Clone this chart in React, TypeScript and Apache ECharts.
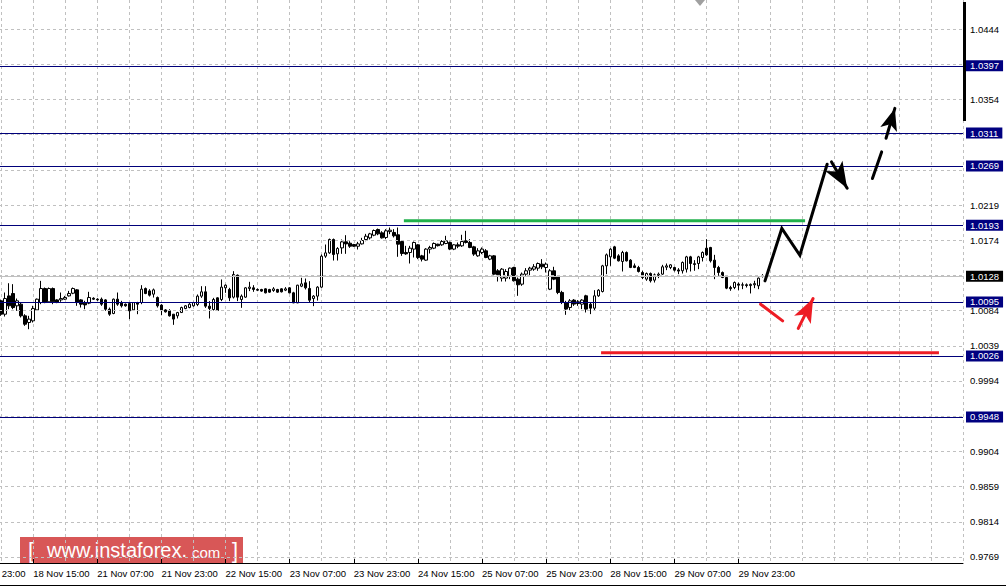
import React, { useEffect, useRef } from "react";
import * as echarts from "echarts";

// ---------- DATA ----------
const START_UTC = Date.UTC(2016, 10, 17, 23); // first category: 17 Nov 23:00 (H1, weekends skipped)
const CATEGORY_COUNT = 249;
const LEADING_EMPTY = 8; // bars before the first visible candle
const MONTH_NAMES = ["Jan", "Feb", "Mar", "Apr", "May", "Jun", "Jul", "Aug", "Sep", "Oct", "Nov", "Dec"];

// [open, close, low, high]
const ohlc: number[][] = [
  [1.00965, 1.00794, 1.00773, 1.0098], [1.00794, 1.00994, 1.00764, 1.01071], [1.01028, 1.00901, 1.00858, 1.0119],
  [1.01058, 1.00879, 1.00858, 1.01178], [1.00901, 1.00965, 1.00837, 1.00994], [1.00922, 1.00773, 1.00752, 1.00943],
  [1.00773, 1.00666, 1.00645, 1.00794], [1.00688, 1.00731, 1.00602, 1.00773], [1.00709, 1.00866, 1.00688, 1.00901],
  [1.00849, 1.00986, 1.00837, 1.00994], [1.00943, 1.01122, 1.00922, 1.0122], [1.01122, 1.00943, 1.00935, 1.01135],
  [1.00952, 1.01122, 1.00943, 1.01135], [1.01122, 1.00952, 1.00922, 1.01135], [1.00977, 1.00943, 1.00935, 1.00986],
  [1.00977, 1.00994, 1.00952, 1.01071], [1.00986, 1.01007, 1.00977, 1.01028], [1.01028, 1.01058, 1.0102, 1.01092],
  [1.01062, 1.01122, 1.0105, 1.01135], [1.01105, 1.00943, 1.00901, 1.01114], [1.00977, 1.00922, 1.00879, 1.00986],
  [1.00935, 1.00913, 1.00858, 1.00965], [1.00935, 1.01007, 1.00922, 1.0108], [1.00998, 1.00986, 1.00977, 1.0101],
  [1.00986, 1.00977, 1.00965, 1.00998], [1.00986, 1.00922, 1.00901, 1.01007], [1.00977, 1.00858, 1.00837, 1.00986],
  [1.00858, 1.00794, 1.00773, 1.00879], [1.00803, 1.00986, 1.00794, 1.00994], [1.00986, 1.00922, 1.00901, 1.01071],
  [1.00943, 1.00901, 1.00879, 1.00965], [1.00922, 1.00901, 1.0089, 1.0093], [1.0093, 1.00837, 1.00731, 1.00943],
  [1.00849, 1.00943, 1.0084, 1.0095], [1.00943, 1.00922, 1.00794, 1.00952], [1.00943, 1.01114, 1.00922, 1.01165],
  [1.01122, 1.01058, 1.0105, 1.01135], [1.01092, 1.01037, 1.0102, 1.01114], [1.0105, 1.01105, 1.01007, 1.01122],
  [1.01007, 1.00901, 1.00879, 1.0102], [1.0091, 1.00849, 1.00781, 1.00922], [1.00849, 1.00824, 1.00815, 1.00858],
  [1.00837, 1.00773, 1.00764, 1.00858], [1.00794, 1.00731, 1.00658, 1.00794], [1.00773, 1.00815, 1.00739, 1.00824],
  [1.00815, 1.00879, 1.0081, 1.0089], [1.00866, 1.00901, 1.00858, 1.0091], [1.00879, 1.00922, 1.0087, 1.00935],
  [1.00901, 1.00943, 1.0089, 1.00952], [1.00918, 1.01025, 1.00897, 1.01046], [1.01025, 1.0108, 1.01003, 1.01152],
  [1.0108, 1.00897, 1.00875, 1.01152], [1.00897, 1.00867, 1.00739, 1.00961], [1.00854, 1.00982, 1.00841, 1.01003],
  [1.01003, 1.00841, 1.00835, 1.0101], [1.00982, 1.0114, 1.00961, 1.01238], [1.01131, 1.01165, 1.01067, 1.01174],
  [1.0111, 1.01003, 1.00961, 1.01131], [1.01012, 1.01301, 1.00995, 1.01344], [1.01293, 1.01012, 1.00961, 1.01301],
  [1.00982, 1.01025, 1.00875, 1.01046], [1.01012, 1.01131, 1.01003, 1.0114], [1.01123, 1.0114, 1.01089, 1.01208],
  [1.01131, 1.0111, 1.0108, 1.01165], [1.0111, 1.01101, 1.01089, 1.01123], [1.0111, 1.01089, 1.0108, 1.01118],
  [1.01118, 1.01067, 1.0106, 1.01125], [1.0111, 1.01076, 1.01067, 1.01118], [1.01097, 1.01118, 1.0108, 1.0114],
  [1.0111, 1.01076, 1.01067, 1.01118], [1.01118, 1.0108, 1.01072, 1.01125], [1.01101, 1.01118, 1.01089, 1.0114],
  [1.01131, 1.01067, 1.0106, 1.0114], [1.01067, 1.00939, 1.00935, 1.0108], [1.00939, 1.01165, 1.00935, 1.0117],
  [1.01152, 1.01182, 1.0114, 1.01259], [1.01195, 1.01131, 1.0111, 1.0125], [1.01123, 1.00973, 1.00939, 1.01216],
  [1.00995, 1.01025, 1.00897, 1.01038], [1.01025, 1.0114, 1.00968, 1.01152], [1.0114, 1.01536, 1.01131, 1.01557],
  [1.01536, 1.01578, 1.01514, 1.01685], [1.01578, 1.01749, 1.01566, 1.01761], [1.01749, 1.01557, 1.0148, 1.01761],
  [1.01566, 1.01634, 1.0148, 1.01651], [1.01642, 1.01719, 1.01566, 1.01749], [1.01719, 1.01693, 1.01566, 1.01804],
  [1.01702, 1.01663, 1.01642, 1.01727], [1.01685, 1.01663, 1.01655, 1.01693], [1.01663, 1.01693, 1.01621, 1.01719],
  [1.01693, 1.01736, 1.01685, 1.0177], [1.01749, 1.01791, 1.01727, 1.01821], [1.0177, 1.01821, 1.01749, 1.01834],
  [1.01804, 1.01864, 1.01791, 1.01877], [1.01877, 1.01821, 1.01804, 1.01889], [1.01834, 1.0177, 1.01761, 1.01855],
  [1.01775, 1.0186, 1.01753, 1.01881], [1.0185, 1.01868, 1.01817, 1.01902], [1.01839, 1.01796, 1.01775, 1.01881],
  [1.01809, 1.01689, 1.01528, 1.01902], [1.01723, 1.0157, 1.0154, 1.01732], [1.01583, 1.01565, 1.01553, 1.01668],
  [1.01583, 1.01638, 1.01442, 1.01668], [1.01626, 1.01711, 1.01519, 1.01723], [1.01681, 1.01519, 1.01498, 1.01689],
  [1.0154, 1.01498, 1.01468, 1.01553], [1.01485, 1.01626, 1.01476, 1.01638], [1.01626, 1.01647, 1.0157, 1.01668],
  [1.01638, 1.01698, 1.01626, 1.01711], [1.01689, 1.0167, 1.0166, 1.01695], [1.01681, 1.01723, 1.01668, 1.01741],
  [1.01698, 1.01732, 1.01689, 1.01796], [1.01711, 1.01626, 1.01613, 1.01723], [1.01626, 1.01681, 1.01613, 1.01689],
  [1.01681, 1.01664, 1.01638, 1.01711], [1.01668, 1.01723, 1.01655, 1.01809], [1.01732, 1.01711, 1.01698, 1.0186],
  [1.01711, 1.01647, 1.01638, 1.01753], [1.01655, 1.01562, 1.0154, 1.01668], [1.0154, 1.01604, 1.01528, 1.01638],
  [1.01583, 1.01626, 1.01562, 1.01647], [1.01604, 1.01519, 1.0151, 1.01626], [1.01498, 1.0154, 1.01485, 1.01553],
  [1.0154, 1.01306, 1.01298, 1.01549], [1.01349, 1.01298, 1.01212, 1.0137], [1.01255, 1.0137, 1.01212, 1.01383],
  [1.01255, 1.0134, 1.01212, 1.0137], [1.01285, 1.01383, 1.01242, 1.01391], [1.01391, 1.01221, 1.01212, 1.014],
  [1.01242, 1.0117, 1.01029, 1.01263], [1.01178, 1.01306, 1.01157, 1.01327], [1.01306, 1.01349, 1.01285, 1.01383],
  [1.01357, 1.01383, 1.01285, 1.014], [1.0137, 1.014, 1.01349, 1.01434], [1.01383, 1.01442, 1.01349, 1.01455],
  [1.01434, 1.014, 1.0137, 1.01498], [1.01391, 1.01434, 1.01327, 1.01455], [1.01114, 1.01349, 1.01102, 1.0137],
  [1.01349, 1.01242, 1.01229, 1.014], [1.01272, 1.01072, 1.0105, 1.01285], [1.01072, 1.00944, 1.00923, 1.01093],
  [1.00944, 1.00859, 1.00786, 1.00965], [1.0088, 1.00965, 1.00838, 1.00987], [1.00974, 1.00923, 1.009, 1.00987],
  [1.00952, 1.0093, 1.00901, 1.00974], [1.00922, 1.00974, 1.00859, 1.00986], [1.01029, 1.00859, 1.00816, 1.01042],
  [1.00922, 1.00871, 1.00795, 1.00944], [1.00871, 1.01029, 1.00837, 1.01101], [1.01029, 1.01101, 1.01016, 1.01114],
  [1.01084, 1.01412, 1.01072, 1.01425], [1.01412, 1.01553, 1.01306, 1.0157], [1.01527, 1.01625, 1.01412, 1.01638],
  [1.01655, 1.0151, 1.01498, 1.01668], [1.0154, 1.01476, 1.01468, 1.01561], [1.01468, 1.01583, 1.0134, 1.01604],
  [1.01583, 1.01476, 1.01468, 1.01596], [1.01485, 1.01391, 1.01383, 1.01498], [1.01412, 1.01391, 1.01383, 1.01442],
  [1.01391, 1.0134, 1.01327, 1.01412], [1.01327, 1.01263, 1.01242, 1.01349], [1.01242, 1.01314, 1.01221, 1.01327],
  [1.01314, 1.01221, 1.01199, 1.01327], [1.01229, 1.01297, 1.01199, 1.01314], [1.0129, 1.01306, 1.01255, 1.01327],
  [1.01306, 1.014, 1.01297, 1.01425], [1.01395, 1.01412, 1.01357, 1.01442], [1.01391, 1.01425, 1.0137, 1.01434],
  [1.01391, 1.01357, 1.0134, 1.014], [1.0136, 1.01345, 1.01306, 1.01383], [1.01349, 1.01455, 1.01314, 1.01468],
  [1.0137, 1.01527, 1.01327, 1.0154], [1.01527, 1.01442, 1.0134, 1.0154], [1.0144, 1.0143, 1.01349, 1.01485],
  [1.01442, 1.01527, 1.0137, 1.0154], [1.01519, 1.01583, 1.01468, 1.01596], [1.01638, 1.01553, 1.0154, 1.01753],
  [1.01647, 1.01476, 1.01455, 1.01655], [1.01485, 1.01391, 1.01242, 1.01553], [1.01391, 1.01327, 1.01285, 1.01412],
  [1.01327, 1.01263, 1.01255, 1.0134], [1.01263, 1.01127, 1.01114, 1.01272], [1.01135, 1.0112, 1.01093, 1.01157],
  [1.01135, 1.01199, 1.01114, 1.01212], [1.0118, 1.01165, 1.01101, 1.01199], [1.01165, 1.0117, 1.01114, 1.01199],
  [1.0117, 1.0116, 1.01135, 1.01187], [1.0116, 1.01175, 1.01059, 1.01187], [1.0117, 1.01185, 1.01127, 1.01221],
  [1.01157, 1.01255, 1.01114, 1.01263], [1.01285, 1.0128, 1.01263, 1.01306],
];

// price-scale grid ticks (labels on the right axis)
const priceTicks = ["0.9769", "0.9814", "0.9859", "0.9904", "0.9949", "0.9994", "1.0039", "1.0084",
  "1.0129", "1.0174", "1.0219", "1.0264", "1.0309", "1.0354", "1.0399", "1.0444"];
const ticksCoveredByTags = ["0.9949", "1.0129", "1.0264", "1.0309", "1.0399"];

// horizontal levels (navy) and current price
const levelPrices = ["1.0397", "1.0311", "1.0269", "1.0193", "1.0095", "1.0026", "0.9948"];
const currentPrice = "1.0128";

// hand-drawn annotations: [bar index (from 17 Nov 23:00), price]
const greenLine = [[108.5, 1.0199], [208.6, 1.0199]];
const redLine = [[157.7, 1.003], [242.0, 1.003]];
const redStroke = [[197.5, 1.00922], [203.0, 1.00709]];
const redArrow = [[206.9, 1.00612], [210.6, 1.00995]];
const blackZigzag = [[198.6, 1.0122], [202.8, 1.0189], [207.3, 1.01548], [214.1, 1.02711]];
const blackArrow = [[215.2, 1.02741], [219.1, 1.02405]];
const dashedStroke = [[225.4, 1.02529], [227.7, 1.02869]];
const dashedArrow = [[228.8, 1.03044], [231.0, 1.03425]];

// ---------- BUILD ----------
function buildHourlyCategories(startUtc: number, count: number): string[] {
  const out: string[] = [];
  let t = startUtc;
  while (out.length < count) {
    const d = new Date(t);
    const day = d.getUTCDay();
    if (day !== 6 && day !== 0) {
      out.push(`${d.getUTCDate()} ${MONTH_NAMES[d.getUTCMonth()]} ${String(d.getUTCHours()).padStart(2, "0")}:00`);
    }
    t += 3600000;
  }
  return out;
}

const categories = buildHourlyCategories(START_UTC, CATEGORY_COUNT);
const lastBarIndex = LEADING_EMPTY + ohlc.length - 1;
const candleData: any[] = [];
for (let i = 0; i < LEADING_EMPTY; i++) candleData.push(["-", "-", "-", "-"]);
ohlc.forEach((c) => candleData.push(c));

const FONT = "Liberation Sans";
const isLabelIndex = (i: number) => i % 16 === 0 && i <= lastBarIndex;

function seg(points: number[][], color: string, width: number, arrowSize?: number[]) {
  return [
    { coord: points[0], symbol: "none", lineStyle: { color, width, type: "solid", cap: "round" } },
    arrowSize
      ? { coord: points[1], symbol: "arrow", symbolSize: arrowSize, itemStyle: { color } }
      : { coord: points[1], symbol: "none" },
  ];
}

const tagLabel = (bg: string) => ({
  show: true,
  position: "end",
  formatter: "{b}",
  distance: 3,
  color: "#ffffff",
  backgroundColor: bg,
  padding: [1, 4, 0, 4],
  lineHeight: 10,
  fontSize: 9.5,
  fontFamily: FONT,
});

const option: any = {
  animation: false,
  backgroundColor: "#ffffff",
  textStyle: { fontFamily: FONT },
  grid: { left: -31, right: 43, top: 0, bottom: 23, containLabel: false, outerBoundsMode: "none" },
  xAxis: [
    {
      type: "category",
      data: categories,
      boundaryGap: false,
      axisLine: { show: true, onZero: false, lineStyle: { color: "#000", width: 1 } },
      axisTick: { show: true, inside: true, length: 4, interval: (i: number) => isLabelIndex(i), lineStyle: { color: "#000" } },
      axisLabel: {
        show: true,
        interval: (i: number) => isLabelIndex(i),
        align: "left",
        margin: 5,
        color: "#000",
        fontSize: 9.5,
        fontFamily: FONT,
      },
      splitLine: { show: true, interval: (i: number) => i % 8 === 0, lineStyle: { color: "#c0c0c0", type: [3, 3], width: 1 } },
    },
    { type: "value", min: 0, max: CATEGORY_COUNT - 1, show: false },
  ],
  yAxis: {
    type: "value",
    position: "right",
    min: 0.97613,
    max: 1.04811,
    axisLine: { show: true, lineStyle: { color: "#000", width: 1 } },
    axisTick: { show: false },
    axisLabel: { show: false },
    splitLine: { show: false },
  },
  series: [
    {
      type: "line",
      xAxisIndex: 1,
      data: [],
      z: 1,
      silent: true,
      markLine: {
        silent: true,
        symbol: "none",
        precision: 5,
        animation: false,
        data: priceTicks.map((t) => ({
          yAxis: Number(t),
          name: t,
          lineStyle: { color: "#c0c0c0", type: [3, 3], width: 1 },
          label: {
            show: !ticksCoveredByTags.includes(t),
            position: "end",
            formatter: "{b}",
            distance: 7,
            color: "#000",
            fontSize: 9.5,
            lineHeight: 10,
            fontFamily: FONT,
          },
        })),
      },
    },
    {
      type: "candlestick",
      data: candleData,
      barWidth: 3,
      z: 3,
      silent: true,
      itemStyle: {
        color: "#ffffff",
        color0: "#000000",
        borderColor: "#000000",
        borderColor0: "#000000",
        borderWidth: 1,
      },
    },
    {
      type: "line",
      xAxisIndex: 1,
      data: [],
      z: 4,
      silent: true,
      markLine: {
        silent: true,
        symbol: "none",
        precision: 5,
        animation: false,
        data: [
          ...levelPrices.map((p) => ({
            yAxis: Number(p),
            name: p,
            lineStyle: { color: "#00007a", type: "solid", width: 1 },
            label: tagLabel("#000080"),
          })),
          {
            yAxis: Number(currentPrice),
            name: currentPrice,
            lineStyle: { color: "#c0c0c0", type: "solid", width: 1 },
            label: tagLabel("#000000"),
          },
        ],
      },
    },
    {
      type: "line",
      xAxisIndex: 1,
      data: greenLine,
      showSymbol: false,
      symbol: "none",
      silent: true,
      z: 6,
      lineStyle: { color: "#22b14c", width: 3 },
    },
    {
      type: "line",
      xAxisIndex: 1,
      data: redLine,
      showSymbol: false,
      symbol: "none",
      silent: true,
      z: 6,
      lineStyle: { color: "#ed1c24", width: 3 },
    },
    {
      type: "line",
      xAxisIndex: 1,
      data: blackZigzag,
      showSymbol: false,
      symbol: "none",
      silent: true,
      z: 6,
      lineStyle: { color: "#000000", width: 3, join: "miter", cap: "round" },
    },
    {
      type: "line",
      xAxisIndex: 1,
      data: [],
      z: 7,
      silent: true,
      markLine: {
        silent: true,
        precision: 5,
        animation: false,
        label: { show: false },
        data: [
          seg(redStroke, "#ed1c24", 3),
          seg(redArrow, "#ed1c24", 3, [14, 24]),
          seg(blackArrow, "#000000", 3, [15, 26]),
          seg(dashedStroke, "#000000", 3),
          seg(dashedArrow, "#000000", 3, [13, 22]),
        ],
      },
    },
  ],
  graphic: [
    { type: "rect", shape: { x: 963, y: 2, width: 3, height: 119 }, style: { fill: "#000" }, z: 100, silent: true },
    { type: "polygon", shape: { points: [[695, 0], [705, 0], [700, 6]] }, style: { fill: "#a0a0a0" }, z: 100, silent: true },
    { type: "line", shape: { x1: 0, y1: 585.5, x2: 1006, y2: 585.5 }, style: { stroke: "#000", lineWidth: 1 }, z: 100, silent: true },
    {
      type: "group",
      left: 20,
      top: 537,
      z: 120,
      silent: true,
      children: [
        { type: "rect", shape: { x: 0, y: 0, width: 223, height: 26 }, style: { fill: "rgba(205,40,40,0.78)" } },
        { type: "text", x: 8, y: 13, style: { text: "[", fill: "#fff", fontSize: 22, fontFamily: FONT, verticalAlign: "middle" } },
        { type: "text", x: 27, y: 13, style: { text: "www.instaforex.", fill: "#fff", fontSize: 20, fontFamily: FONT, verticalAlign: "middle" } },
        { type: "text", x: 172, y: 15, style: { text: "com", fill: "#fff", fontSize: 15, fontFamily: FONT, verticalAlign: "middle" } },
        { type: "text", x: 212, y: 13, style: { text: "]", fill: "#fff", fontSize: 22, fontFamily: FONT, verticalAlign: "middle" } },
      ],
    },
  ],
};

export default function App() {
  const ref = useRef<HTMLDivElement>(null);
  useEffect(() => {
    if (!ref.current) return;
    const chart = echarts.init(ref.current, null, { renderer: "svg" });
    chart.setOption(option);
    return () => chart.dispose();
  }, []);
  return (
    <div
      ref={ref}
      style={{ position: "absolute", left: 0, top: 0, width: 1006, height: 586, background: "#fff" }}
    />
  );
}
